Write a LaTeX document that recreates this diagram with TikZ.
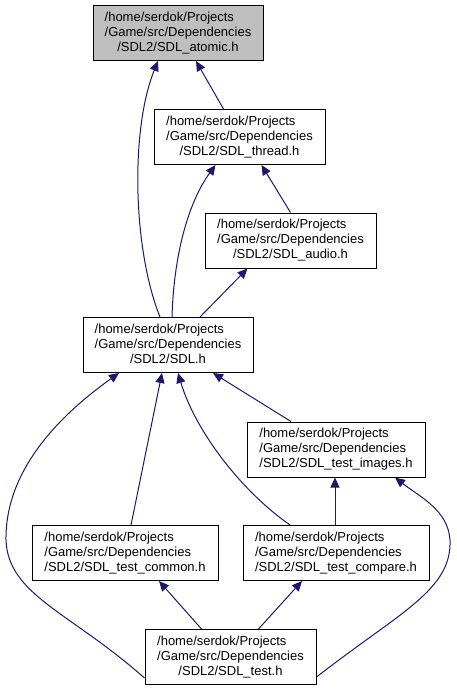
\documentclass[tikz,border=0pt]{standalone}
\usepackage{fontspec}
\setmainfont{Liberation Sans}
\usepackage{tikz}
\usetikzlibrary{arrows.meta}
\usepackage{xcolor}
\definecolor{edgeblue}{HTML}{191970}
\definecolor{curfile}{HTML}{BFBFBF}

\newcommand{\sdlpath}[1]{\begin{tabular}{@{}l@{}}/home/serdok/Projects\\/Game/src/Dependencies\\\multicolumn{1}{@{}c@{}}{/SDL2/#1}\end{tabular}}

\begin{document}
\begin{tikzpicture}[
  x=1pt, y=-1pt,
  font=\fontsize{13}{15}\selectfont,
  box/.style={draw=black, line width=1pt, fill=white, inner sep=0pt, minimum height=55pt},
  cur/.style={box, fill=curfile},
  arr/.style={draw=edgeblue, line width=1pt, -{Triangle[length=10pt, width=9pt]}},
]
\useasboundingbox (0,0) rectangle (457,691);
% The header itself.
\node[cur, minimum width=170pt] (atomic) at (178,33) {\sdlpath{SDL\_atomic.h}};
% Headers that pull it in.
\node[box, minimum width=171pt] (thread) at (239.5,137) {\sdlpath{SDL\_thread.h}};
\node[box, minimum width=171pt] (audio) at (290.5,240.5) {\sdlpath{SDL\_audio.h}};
\node[box, minimum width=170pt] (sdl) at (168,345) {\sdlpath{SDL.h}};
\node[box, minimum width=178pt] (images) at (336,449.5) {\sdlpath{SDL\_test\_images.h}};
\node[box, minimum width=186pt] (common) at (125,553) {\sdlpath{SDL\_test\_common.h}};
\node[box, minimum width=186pt] (compare) at (336,553) {\sdlpath{SDL\_test\_compare.h}};
\node[box, minimum width=171pt] (test) at (230.5,657) {\sdlpath{SDL\_test.h}};
% Include edges.
\draw[arr] ([xshift=-16pt]thread.north) -- ([xshift=18pt]atomic.south);
\draw[arr] ([xshift=-8pt]sdl.north) .. controls (133,250) and (130,130) .. ([xshift=-20pt]atomic.south);
\draw[arr] ([xshift=0pt]audio.north) -- ([xshift=22pt]thread.south);
\draw[arr] ([xshift=4pt]sdl.north) .. controls (174,250) and (190,200) .. ([xshift=-24pt]thread.south);
\draw[arr] ([xshift=32pt]sdl.north) -- ([xshift=-43pt]audio.south);
\draw[arr] ([xshift=-45pt]images.north) -- ([xshift=45pt]sdl.south);
\draw[arr] ([xshift=6pt]common.north) -- ([xshift=-6pt]sdl.south);
\draw[arr] ([xshift=-46pt]compare.north) .. controls (240,490) and (195,430) .. ([xshift=10pt]sdl.south);
\draw[arr] ([yshift=-21pt]test.west) .. controls (70,612) and (8,595) .. (6,540)
  .. controls (5,470) and (60,415) .. ([xshift=-49pt]sdl.south);
\draw[arr] ([xshift=-29pt]test.north) -- ([xshift=34pt]common.south);
\draw[arr] ([xshift=28pt]test.north) -- ([xshift=-34pt]compare.south);
\draw[arr] ([xshift=-1pt]compare.north) -- ([xshift=-1pt]images.south);
\draw[arr] ([yshift=-20pt]test.east) .. controls (400,612) and (452,590) .. (450,540)
  .. controls (448,510) and (420,497) .. ([xshift=59pt]images.south);
\end{tikzpicture}
\end{document}
